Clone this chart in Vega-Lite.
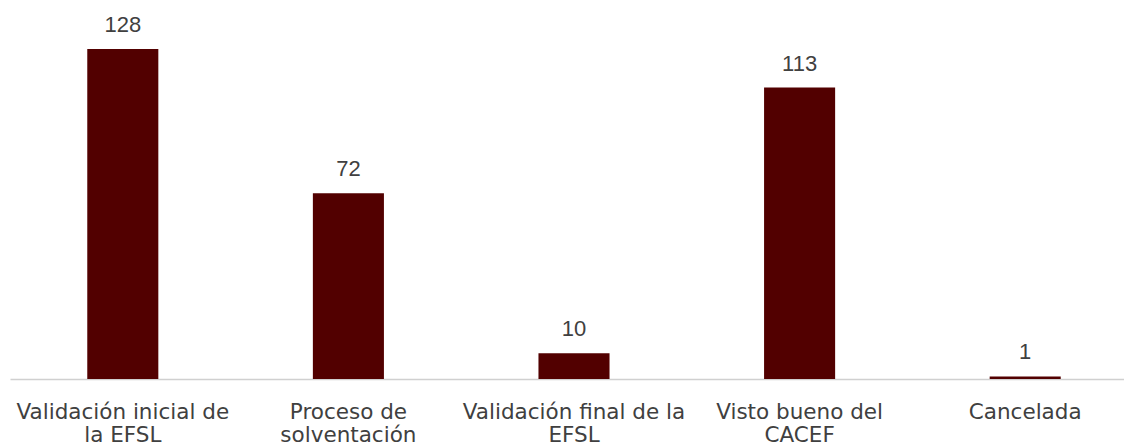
{
  "$schema": "https://vega.github.io/schema/vega-lite/v6.json",
  "width": 1128,
  "height": 361,
  "autosize": {"type": "none"},
  "padding": {"left": 10, "top": 18, "right": 0, "bottom": 67},
  "background": "white",
  "config": {"view": {"stroke": null}, "font": "Liberation Sans"},
  "data": {
    "values": [
      {"estado": "Validación inicial de|la EFSL", "n": 128},
      {"estado": "Proceso de|solventación", "n": 72},
      {"estado": "Validación final de la|EFSL", "n": 10},
      {"estado": "Visto bueno del|CACEF", "n": 113},
      {"estado": "Cancelada", "n": 1}
    ]
  },
  "encoding": {
    "x": {
      "field": "estado",
      "type": "nominal",
      "sort": null,
      "scale": {"paddingInner": 0.685, "paddingOuter": 0.3425},
      "axis": {
        "title": null,
        "labelAngle": 0,
        "ticks": false,
        "domainColor": "#d0d0d0",
        "domainWidth": 1.5,
        "labelFont": "DejaVu Sans",
        "labelFontSize": 21.5,
        "labelColor": "#404040",
        "labelPadding": 39,
        "labelLineHeight": 23,
        "labelLimit": 400,
        "labelBaseline": "alphabetic",
        "labelExpr": "split(datum.value, '|')"
      }
    },
    "y": {
      "field": "n",
      "type": "quantitative",
      "scale": {"domain": [0, 140]},
      "axis": null
    }
  },
  "layer": [
    {"mark": {"type": "bar", "color": "#520000"}},
    {
      "mark": {"type": "text", "baseline": "alphabetic", "dy": -17, "fontSize": 22, "color": "#404040", "font": "Liberation Sans"},
      "encoding": {"text": {"field": "n", "type": "quantitative"}}
    }
  ]
}
